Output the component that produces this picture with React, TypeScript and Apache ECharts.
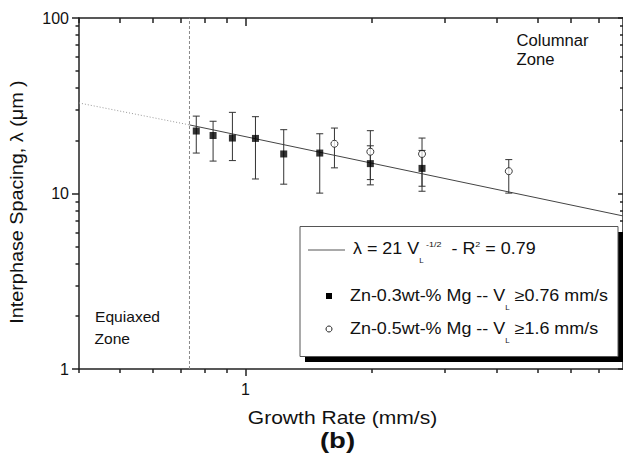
import React, { useEffect, useRef } from 'react';
import * as echarts from 'echarts';

// ---- data ----
const sqRate = [0.763, 0.837, 0.931, 1.057, 1.235, 1.506, 1.99, 2.645];
const sqSpacing = [22.7, 21.4, 20.7, 20.6, 16.8, 17.0, 14.8, 13.9];
const sqHigh = [27.6, 25.8, 29.0, 27.4, 23.1, 21.9, 18.7, 17.6];
const sqLow = [17.0, 15.3, 15.4, 12.1, 11.3, 10.05, 11.2, 10.3];

const ciRate = [1.633, 1.99, 2.645, 4.265];
const ciSpacing = [19.2, 17.3, 16.8, 13.4];
const ciHigh = [23.6, 22.8, 20.7, 15.6];
const ciLow = [14.0, 12.0, 11.0, 10.05];

const fitDotted = [[0.4, 32.8], [0.735, 24.6]];
const fitSolid = [[0.735, 24.6], [8, 7.45]];
const transitionRate = 0.735;

const xRange = [0.4, 8];
const yRange = [1, 100];
const xMajorTicks = [1];
const xMinorTicks = [0.4, 0.5, 0.6, 0.7, 0.8, 0.9, 2, 3, 4, 5, 6, 7];
const yMajorTicks = [1, 10, 100];
const yMinorTicks = [2, 3, 4, 5, 6, 7, 8, 9, 20, 30, 40, 50, 60, 70, 80, 90];

const FONT = '"Liberation Sans", Arial, Helvetica, sans-serif';
const INK = '#111';
const AXIS = '#222';

function txt(text: string, x: number, y: number, o: any = {}) {
  const align = o.align || 'left';
  return {
    type: 'text',
    x,
    y,
    scaleX: o.sx ?? 1,
    rotation: o.rot ?? 0,
    z: 100,
    style: {
      text,
      fontFamily: FONT,
      fontSize: o.size ?? 16,
      fontWeight: o.weight ?? 'normal',
      fill: INK,
      align,
      textAlign: align,
      verticalAlign: 'middle',
      textVerticalAlign: 'middle',
      lineHeight: o.lh,
      rich: o.rich,
    },
  };
}

const rich = {
  sub: { fontFamily: FONT, fontSize: 7, lineHeight: 7, verticalAlign: 'bottom', fill: INK, color: INK },
  sup: { fontFamily: FONT, fontSize: 8, lineHeight: 8, verticalAlign: 'middle', padding: [0, 0, 9, 0], fill: INK, color: INK },
};

function errorBars(rate: number[], hi: number[], lo: number[]) {
  return {
    type: 'custom',
    silent: true,
    z: 3,
    encode: { x: 0, y: [1, 2] },
    data: rate.map((r, i) => [r, hi[i], lo[i]]),
    renderItem: (_p: any, api: any) => {
      const x = api.value(0);
      const a = api.coord([x, api.value(1)]);
      const b = api.coord([x, api.value(2)]);
      const w = 3.5;
      const st = { stroke: '#333', lineWidth: 1 };
      return {
        type: 'group',
        children: [
          { type: 'line', shape: { x1: a[0], y1: a[1], x2: b[0], y2: b[1] }, style: st },
          { type: 'line', shape: { x1: a[0] - w, y1: a[1], x2: a[0] + w, y2: a[1] }, style: st },
          { type: 'line', shape: { x1: b[0] - w, y1: b[1], x2: b[0] + w, y2: b[1] }, style: st },
        ],
      };
    },
  };
}

// one log axis carrying its own set of tick marks
function logAxis(range: number[], position: string, ticks: number[], len: number, inside: boolean, showLine: boolean, label: any) {
  return {
    type: 'log',
    logBase: 10,
    min: range[0],
    max: range[1],
    position,
    axisLine: { show: showLine, onZero: false, lineStyle: { color: AXIS, width: 1.5 } },
    axisTick: { show: true, customValues: ticks, length: len, inside, lineStyle: { color: AXIS, width: 1.5 } },
    minorTick: { show: false },
    splitLine: { show: false },
    axisLabel: label || { show: false },
  };
}

export default function App() {
  const ref = useRef<HTMLDivElement>(null);
  useEffect(() => {
    if (!ref.current) return;
    const chart = echarts.init(ref.current, null, { renderer: 'svg' });
    const xLabel = {
      show: true, margin: 12, color: INK, fontFamily: FONT, fontSize: 16,
      customValues: xMajorTicks,
      formatter: (v: number) => (xMajorTicks.some((t) => Math.abs(t - v) < 1e-6) ? String(Math.round(v)) : ''),
    };
    const yLabel = {
      show: true, margin: 10, color: INK, fontFamily: FONT, fontSize: 16,
      customValues: yMajorTicks,
      formatter: (v: number) => String(Math.round(v)),
    };
    chart.setOption({
      animation: false,
      grid: { left: 79, top: 18, width: 544, height: 351, containLabel: false, outerBoundsMode: 'none' },
      xAxis: [
        logAxis(xRange, 'bottom', xMinorTicks, 4, false, true, xLabel),
        logAxis(xRange, 'top', xMinorTicks, 5, true, true, null),
        logAxis(xRange, 'bottom', xMajorTicks, 7, false, false, null),
        logAxis(xRange, 'top', xMajorTicks, 8, true, false, null),
      ],
      yAxis: [
        logAxis(yRange, 'left', yMinorTicks, 3.5, false, true, yLabel),
        logAxis(yRange, 'right', yMinorTicks, 3, true, true, null),
        logAxis(yRange, 'left', yMajorTicks, 7, false, false, null),
        logAxis(yRange, 'right', yMajorTicks, 5, true, false, null),
      ],
      series: [
        {
          type: 'line', data: [[transitionRate, yRange[0]], [transitionRate, yRange[1]]],
          symbol: 'none', silent: true, z: 2,
          lineStyle: { color: '#888', width: 1, type: [3, 2] },
        },
        {
          type: 'line', data: fitDotted, symbol: 'none', silent: true, z: 2,
          lineStyle: { color: '#999', width: 1, type: [1, 2] },
        },
        {
          type: 'line', data: fitSolid, symbol: 'none', silent: true, z: 2,
          lineStyle: { color: '#444', width: 1 },
        },
        errorBars(sqRate, sqHigh, sqLow),
        errorBars(ciRate, ciHigh, ciLow),
        {
          type: 'scatter', name: 'Zn-0.3wt-% Mg', symbol: 'rect', symbolSize: 7, z: 4,
          itemStyle: { color: '#000' },
          data: sqRate.map((r, i) => [r, sqSpacing[i]]),
        },
        {
          type: 'scatter', name: 'Zn-0.5wt-% Mg', symbol: 'circle', symbolSize: 7, z: 4,
          itemStyle: { color: '#fff', borderColor: '#111', borderWidth: 1 },
          data: ciRate.map((r, i) => [r, ciSpacing[i]]),
        },
      ],
      graphic: [
        // legend box with shadow
        { type: 'rect', z: 90, shape: { x: 305, y: 232, width: 320, height: 130 }, style: { fill: '#000' } },
        { type: 'rect', z: 91, shape: { x: 300, y: 226.5, width: 318, height: 130 }, style: { fill: '#fff', stroke: '#555', lineWidth: 1 } },
        { type: 'line', z: 92, shape: { x1: 308, y1: 250, x2: 345, y2: 250 }, style: { stroke: '#555', lineWidth: 1 } },
        { type: 'rect', z: 92, shape: { x: 326, y: 293, width: 6, height: 6 }, style: { fill: '#000' } },
        { type: 'circle', z: 92, shape: { cx: 329, cy: 329, r: 3 }, style: { fill: '#fff', stroke: '#222', lineWidth: 1 } },
        txt('λ = 21 V{sub|L}{sup| -1/2}  - R{sup|2} = 0.79', 353, 249, { size: 16, sx: 1.12, lh: 30, rich }),
        txt('Zn-0.3wt-% Mg -- V{sub|L} ≥0.76 mm/s', 350, 296, { size: 16, sx: 1.12, lh: 30, rich }),
        txt('Zn-0.5wt-% Mg -- V{sub|L} ≥1.6 mm/s', 350, 329, { size: 16, sx: 1.12, lh: 30, rich }),
        // zone annotations
        txt('Columnar', 516.5, 40, { size: 16, sx: 1.04 }),
        txt('Zone', 516.5, 59.5, { size: 16, sx: 1.04 }),
        txt('Equiaxed', 95, 316.5, { size: 15, sx: 1.04 }),
        txt('Zone', 94.5, 338.5, { size: 15, sx: 1.04 }),
        // axis titles
        txt('Growth Rate (mm/s)', 342.5, 418, { size: 18, sx: 1.17, align: 'center' }),
        txt('(b)', 337.5, 440, { size: 22, sx: 1.25, weight: 'bold', align: 'center' }),
        txt('Interphase Spacing, λ (μm )', 17, 202, { size: 18, sx: 1.1, rot: Math.PI / 2, align: 'center' }),
      ],
    });
    return () => chart.dispose();
  }, []);
  return <div ref={ref} style={{ position: 'absolute', left: 0, top: 0, width: 623, height: 460 }} />;
}
